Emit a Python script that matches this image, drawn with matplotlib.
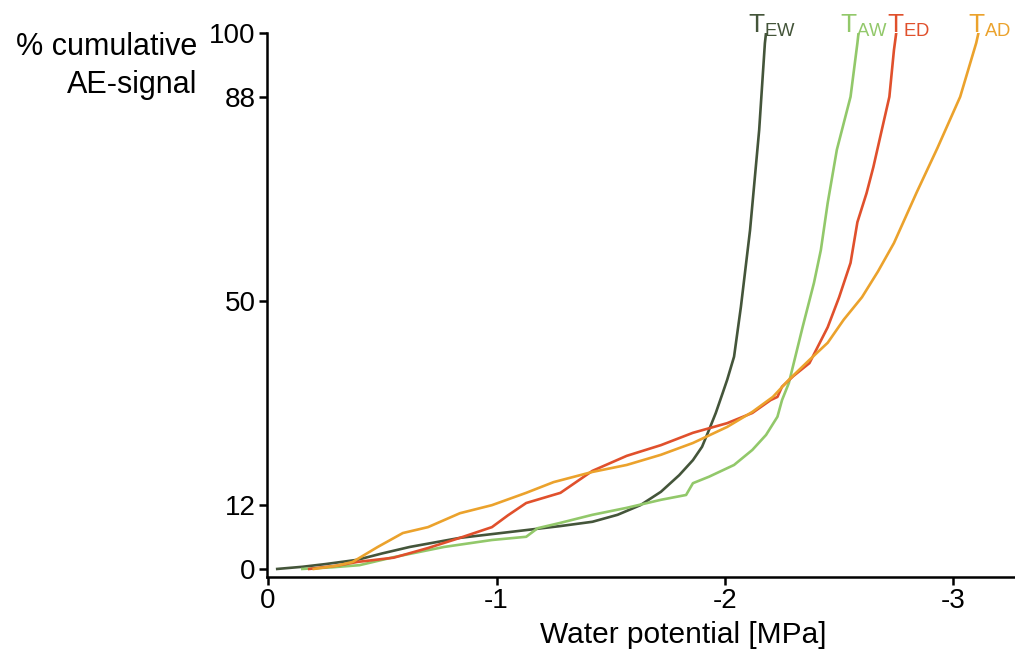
import numpy as np
import matplotlib
matplotlib.use("Agg")
from matplotlib import pyplot as plt

plt.rcParams['font.family'] = ['Liberation Sans', 'DejaVu Sans']
plt.rcParams['mathtext.fontset'] = 'custom'
plt.rcParams['mathtext.rm'] = 'Liberation Sans'

# cumulative acoustic emission vs. water potential (MPa), per treatment
ew_x = [-0.04, -0.15, -0.25, -0.39, -0.50, -0.62, -0.84, -1.06, -1.28, -1.42, -1.53, -1.63,
        -1.72, -1.80, -1.86, -1.90, -1.93, -1.96, -1.99, -2.01, -2.04, -2.07, -2.11, -2.15,
        -2.175, -2.18]
ew_y = [0, 0.4, 0.9, 1.7, 2.9, 4.1, 5.8, 6.9, 8.0, 8.8, 10.1, 11.9,
        14.4, 17.5, 20.3, 22.8, 25.9, 29.1, 32.8, 35.3, 39.6, 48.9, 63.2, 81.9,
        98.1, 100]

aw_x = [-0.15, -0.28, -0.40, -0.55, -0.77, -0.98, -1.13, -1.18, -1.28, -1.42, -1.57, -1.72,
        -1.83, -1.86, -1.93, -2.04, -2.12, -2.18, -2.23, -2.25, -2.28, -2.34, -2.39, -2.42,
        -2.45, -2.49, -2.55, -2.58, -2.585]
aw_y = [0, 0.3, 0.7, 2.2, 4.1, 5.4, 6.0, 7.6, 8.6, 10.1, 11.4, 12.9,
        13.8, 16.0, 17.2, 19.4, 22.2, 25.0, 28.4, 31.5, 34.7, 45.1, 53.4, 59.5,
        68.3, 78.2, 88.1, 98.1, 100]

ed_x = [-0.18, -0.30, -0.39, -0.55, -0.70, -0.84, -0.98, -1.05, -1.13, -1.28, -1.42, -1.57,
        -1.72, -1.86, -2.01, -2.12, -2.20, -2.23, -2.25, -2.30, -2.37, -2.45, -2.50, -2.55,
        -2.58, -2.62, -2.65, -2.69, -2.72, -2.74, -2.75]
ed_y = [0, 0.6, 1.3, 2.1, 3.9, 5.8, 7.8, 10.0, 12.3, 14.2, 18.3, 21.1,
        23.1, 25.4, 27.2, 29.1, 31.5, 32.1, 34.0, 36.0, 38.4, 45.1, 50.7, 57.1,
        64.7, 70.1, 75.0, 82.5, 88.1, 96.8, 100]

ad_x = [-0.20, -0.30, -0.37, -0.48, -0.59, -0.70, -0.84, -0.98, -1.13, -1.25, -1.42, -1.57,
        -1.72, -1.86, -2.01, -2.12, -2.21, -2.28, -2.37, -2.45, -2.52, -2.60, -2.67, -2.74,
        -2.84, -2.93, -3.03, -3.10, -3.11]
ad_y = [0, 0.6, 1.3, 4.1, 6.7, 7.8, 10.4, 11.9, 14.2, 16.2, 18.1, 19.4,
        21.3, 23.5, 26.5, 29.3, 32.1, 35.3, 39.0, 42.2, 46.5, 50.7, 55.5, 60.8,
        70.3, 78.5, 88.1, 98.1, 100]

names = ["EW", "AW", "ED", "AD"]
colors = ["#44553a", "#92c86a", "#e0502c", "#eba22c"]
label_x = [-2.10, -2.505, -2.71, -3.065]

yticks = [0, 12, 50, 88, 100]
xticks = [0, -1, -2, -3]

fig = plt.figure(figsize=(10.15, 6.57), dpi=100)
ax = fig.add_axes([0.263, 0.1218, 0.737, 0.828])

series = [(ew_x, ew_y), (aw_x, aw_y), (ed_x, ed_y), (ad_x, ad_y)]
for (xs, ys), c in zip(series, colors):
    ax.plot(xs, ys, color=c, lw=1.9, solid_joinstyle='round')

for name, c, lx in zip(names, colors, label_x):
    ax.text(lx, 100, "T$_\\mathregular{%s}$" % name, color=c, fontsize=19,
            ha='left', va='baseline', clip_on=False)

ax.set_xlim(0.005, -3.27)
ax.set_ylim(-1.5, 100)
ax.set_xticks(xticks)
ax.set_xticklabels(["0", "-1", "-2", "-3"])
ax.set_yticks(yticks)
ax.tick_params(labelsize=20, width=1.8, length=6, pad=2)

for s in ["top", "right"]:
    ax.spines[s].set_visible(False)
for s in ["left", "bottom"]:
    ax.spines[s].set_linewidth(1.8)

ax.set_xlabel("Water potential [MPa]", fontsize=21.5)
ax.xaxis.set_label_coords(0.557, -0.121, transform=ax.transAxes)
ax.xaxis.label.set_va('baseline')

fig.text(0.194, 0.917, "% cumulative", fontsize=22, ha='right', va='baseline')
fig.text(0.194, 0.859, "AE-signal", fontsize=22, ha='right', va='baseline')

fig.savefig("out.png", dpi=100)
